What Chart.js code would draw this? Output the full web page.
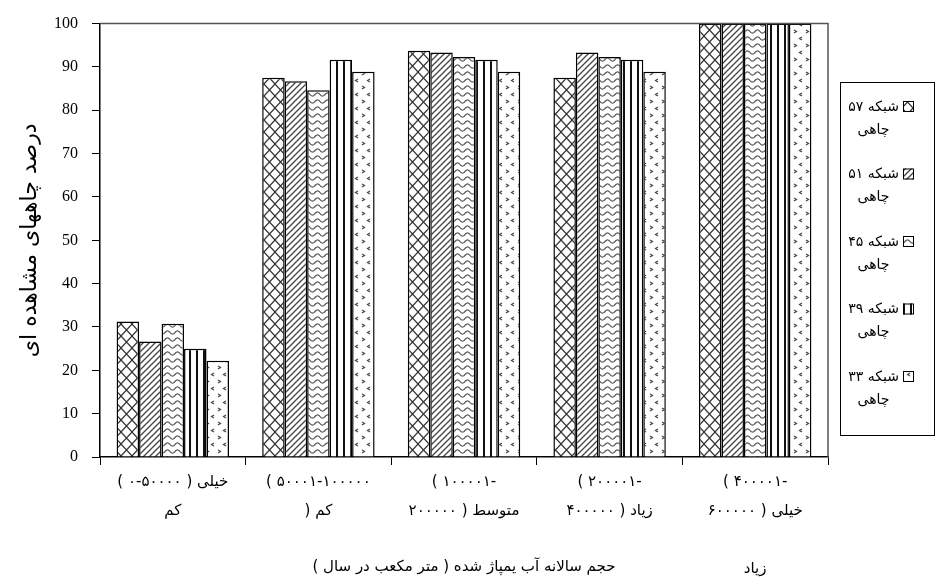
<!DOCTYPE html>
<html>
<head>
<meta charset="utf-8">
<script src="https://cdn.jsdelivr.net/npm/chart.js@4.4.1/dist/chart.umd.min.js"></script>
<style>
  body { margin: 0; background: #fff; }
</style>
</head>
<body>
<canvas id="wellChart" width="936" height="587"></canvas>
<script>
// category labels, one array of lines per group (as wrapped in the original)
const categories = [
    ["( ۰-۵۰۰۰۰ ) خیلی", "کم"],
    ["( ۵۰۰۰۱-۱۰۰۰۰۰", ") کم"],
    ["( ۱۰۰۰۰۱-", "۲۰۰۰۰۰ ) متوسط"],
    ["( ۲۰۰۰۰۱-", "۴۰۰۰۰۰ ) زیاد"],
    ["( ۴۰۰۰۰۱-", "۶۰۰۰۰۰ ) خیلی", "", "زیاد"]
];

const seriesNames = [
    ["شبکه ۵۷", "چاهی"],
    ["شبکه ۵۱", "چاهی"],
    ["شبکه ۴۵", "چاهی"],
    ["شبکه ۳۹", "چاهی"],
    ["شبکه ۳۳", "چاهی"]
];

const net57 = [31.25, 87.5, 93.75, 87.5, 100];
const net51 = [26.67, 86.67, 93.33, 93.33, 100];
const net45 = [30.77, 84.62, 92.31, 92.31, 100];
const net39 = [25.0, 91.67, 91.67, 91.67, 100];
const net33 = [22.22, 88.89, 88.89, 88.89, 100];

const yTicks = [0, 10, 20, 30, 40, 50, 60, 70, 80, 90, 100];

const yTitle = "درصد چاههای مشاهده ای";
const xTitle = "\u202Bحجم سالانه آب یمپاژ شده ( متر مکعب در سال )\u202C";

function makePattern(kind) {
    const c = document.createElement("canvas");
    const p = c.getContext("2d");
    if (kind === "cross") {
        c.width = 11; c.height = 12;
        p.fillStyle = "#fff"; p.fillRect(0, 0, 11, 12);
        p.strokeStyle = "#333"; p.lineWidth = 1.2;
        p.beginPath();
        p.moveTo(-1, -1.1); p.lineTo(12, 13.1);
        p.moveTo(12, -1.1); p.lineTo(-1, 13.1);
        p.stroke();
    } else if (kind === "diag") {
        c.width = 6; c.height = 6;
        p.fillStyle = "#fff"; p.fillRect(0, 0, 6, 6);
        p.strokeStyle = "#444"; p.lineWidth = 1.3;
        p.beginPath();
        p.moveTo(-1, 7); p.lineTo(7, -1);
        p.moveTo(-1, 1); p.lineTo(1, -1);
        p.moveTo(5, 7); p.lineTo(7, 5);
        p.stroke();
    } else if (kind === "wave") {
        c.width = 10; c.height = 7;
        p.fillStyle = "#fff"; p.fillRect(0, 0, 10, 7);
        p.strokeStyle = "#555"; p.lineWidth = 1.2;
        p.beginPath();
        for (let x = 0; x <= 10; x += 0.5) {
            const y = 3.5 + 1.6 * Math.sin(x / 10 * Math.PI * 2);
            if (x === 0) p.moveTo(x, y); else p.lineTo(x, y);
        }
        p.stroke();
    } else if (kind === "vert") {
        c.width = 7; c.height = 4;
        p.fillStyle = "#fff"; p.fillRect(0, 0, 7, 4);
        p.fillStyle = "#111"; p.fillRect(0, 0, 2, 4);
    } else {
        c.width = 12; c.height = 14;
        p.fillStyle = "#fff"; p.fillRect(0, 0, 12, 14);
        p.strokeStyle = "#444"; p.lineWidth = 1.2;
        p.beginPath();
        p.moveTo(2, 2); p.lineTo(4.5, 3.5); p.lineTo(2, 5);
        p.moveTo(10, 9); p.lineTo(7.5, 10.5); p.lineTo(10, 12);
        p.stroke();
    }
    return p.createPattern(c, "repeat");
}

const fills = ["cross", "diag", "wave", "vert", "chev"].map(makePattern);

// box around the plot area
const plotFrame = {
    id: "plotFrame",
    afterDatasetsDraw(chart) {
        const { ctx, chartArea: a } = chart;
        ctx.save();
        ctx.strokeStyle = "#555";
        ctx.lineWidth = 1.5;
        ctx.beginPath();
        ctx.moveTo(a.left, a.top);
        ctx.lineTo(a.right, a.top);
        ctx.lineTo(a.right, a.bottom);
        ctx.stroke();
        ctx.restore();
    }
};

// legend on the right, swatch after two-line text
const legendBox = {
    id: "legendBox",
    afterDraw(chart) {
        const ctx = chart.ctx;
        const left = chart.chartArea.right + 12;
        const right = chart.width - 2;
        const top = 82, bottom = 435;
        const step = 67.5;
        ctx.save();
        ctx.strokeStyle = "#000";
        ctx.lineWidth = 1;
        ctx.strokeRect(left + 0.5, top + 0.5, right - left, bottom - top);
        ctx.font = "14px 'DejaVu Sans'";
        ctx.textBaseline = "middle";
        chart.data.datasets.forEach((ds, i) => {
            const yc = top + 25 + i * step;
            const sx = right - 31;
            ctx.fillStyle = ds.backgroundColor;
            ctx.fillRect(sx, yc - 6, 11, 11);
            ctx.strokeStyle = "#000";
            ctx.strokeRect(sx + 0.5, yc - 5.5, 10, 10);
            ctx.fillStyle = "#000";
            ctx.textAlign = "right";
            ctx.fillText(seriesNames[i][0], sx - 4, yc);
            ctx.textAlign = "center";
            ctx.fillText(seriesNames[i][1], (left + sx) / 2 + 2, yc + 23);
        });
        ctx.restore();
    }
};

const allSeries = [net57, net51, net45, net39, net33];

new Chart(document.getElementById("wellChart"), {
    type: "bar",
    data: {
        labels: categories,
        datasets: allSeries.map((vals, i) => ({
            label: seriesNames[i].join(" "),
            data: vals,
            backgroundColor: fills[i],
            borderColor: "#000",
            borderWidth: 1.5,
            categoryPercentage: 0.772,
            barPercentage: 1
        }))
    },
    options: {
        responsive: false,
        animation: false,
        layout: { padding: { top: 23, right: 108, left: 0, bottom: 0 } },
        plugins: {
            legend: { display: false },
            tooltip: { enabled: false }
        },
        scales: {
            x: {
                grid: { drawOnChartArea: false, color: "#000", tickLength: 8, offset: true },
                border: { color: "#000", width: 1.5 },
                ticks: {
                    autoSkip: false, maxRotation: 0, minRotation: 0,
                    color: "#000", padding: 3,
                    font: { family: "'DejaVu Sans'", size: 15, lineHeight: "29px" }
                },
                title: {
                    display: true, text: xTitle, color: "#000",
                    font: { family: "'DejaVu Sans'", size: 15 },
                    padding: { top: 0, bottom: 11 }
                },
                afterFit(scale) { scale.height = 130; }
            },
            y: {
                min: 0, max: 100,
                afterBuildTicks(scale) { scale.ticks = yTicks.map(v => ({ value: v })); },
                grid: { drawOnChartArea: false, color: "#000", tickLength: 8 },
                border: { color: "#000", width: 1.5 },
                ticks: {
                    color: "#000", padding: 14,
                    font: { family: "'Liberation Serif'", size: 16 }
                },
                title: {
                    display: true, text: yTitle, color: "#000",
                    font: { family: "'DejaVu Sans'", size: 22 },
                    padding: { top: 17, bottom: 0 }
                },
                afterFit(scale) { scale.width = 100; }
            }
        }
    },
    plugins: [plotFrame, legendBox]
});
</script>
</body>
</html>
